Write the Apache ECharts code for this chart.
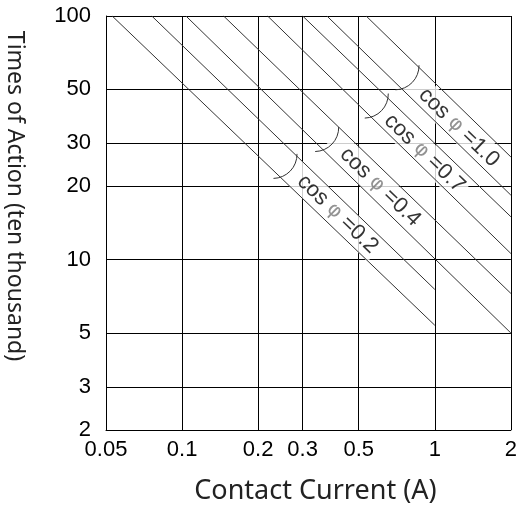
<!DOCTYPE html>
<html>
<head>
<meta charset="utf-8">
<script src="https://cdn.jsdelivr.net/npm/echarts@6/dist/echarts.min.js"></script>
<style>
html, body { margin: 0; padding: 0; background: #fff; }
#chart { width: 520px; height: 510px; }
</style>
</head>
<body>
<div id="chart"></div>
<script>
// grid values on both log axes
var xTicks = [0.05, 0.1, 0.2, 0.3, 0.5, 1, 2];
var yTicks = [2, 3, 5, 10, 20, 30, 50, 100];

// the 8 diagonal life lines, start (top edge) and end point
var lineStartX = [0.0529, 0.0759, 0.1036, 0.146, 0.218, 0.30, 0.3743, 0.535];
var lineStartY = [100, 100, 100, 100, 100, 100, 100, 100];
var lineEndX = [1, 1, 2, 2, 2, 2, 2, 2];
var lineEndY = [5.38, 7.55, 5, 7.27, 10.6, 15.0, 18.4, 26.4];

// power factor bands
var cosNames = ['0.2', '0.4', '0.7', '1.0'];
var bracketX = [0.256, 0.3743, 0.588, 0.778];
var bracketY = [24.2, 31.2, 42.8, 55.9];
var labelX = [0.394, 0.581, 0.870, 1.19];
var labelY = [16.1, 20.8, 28.6, 36.5];

var chart = echarts.init(document.getElementById('chart'));

var series = [];
lineStartX.forEach(function (x, i) {
  series.push({
    type: 'line',
    data: [[x, lineStartY[i]], [lineEndX[i], lineEndY[i]]],
    symbol: 'none',
    silent: true,
    z: 5,
    lineStyle: { color: '#333', width: 1 }
  });
});

// labels, white box hides the grid inside the band
series.push({
  type: 'scatter',
  symbolSize: 0,
  silent: true,
  z: 3,
  data: labelX.map(function (x, i) {
    return { value: [x, labelY[i]], name: cosNames[i] };
  }),
  label: {
    show: true,
    position: 'inside',
    rotate: -44,
    backgroundColor: '#fff',
    padding: [3, 3, 3, 17],
    formatter: function (p) {
      return '{t|cos }{p|φ}{t| =' + p.name + '}';
    },
    rich: {
      t: { fontFamily: 'Liberation Sans', fontSize: 22, color: '#000', lineHeight: 21 },
      p: { fontFamily: 'DejaVu Sans', fontSize: 20, color: '#777', lineHeight: 21 }
    }
  }
});

// little arcs at the start of each band
series.push({
  type: 'custom',
  silent: true,
  z: 4,
  encode: { x: 0, y: 1 },
  data: bracketX.map(function (x, i) { return [x, bracketY[i]]; }),
  renderItem: function (params, api) {
    var m = api.coord([api.value(0), api.value(1)]);
    var a = api.coord([lineStartX[0], lineStartY[0]]);
    var b = api.coord([lineEndX[0], lineEndY[0]]);
    var dx = b[0] - a[0], dy = b[1] - a[1];
    var len = Math.sqrt(dx * dx + dy * dy);
    dx /= len; dy /= len;
    var h = 17, bulge = 7;
    var r = (h * h + bulge * bulge) / (2 * bulge);
    var ang = Math.atan2(dy, dx), half = Math.asin(h / r);
    return {
      type: 'arc',
      shape: {
        cx: m[0] - dx * (r - bulge),
        cy: m[1] - dy * (r - bulge),
        r: r,
        startAngle: ang - half,
        endAngle: ang + half,
        clockwise: true
      },
      style: { stroke: '#333', fill: 'none', lineWidth: 1 }
    };
  }
});

chart.setOption({
  animation: false,
  backgroundColor: '#fff',
  grid: { left: 106, right: 7, top: 16, bottom: 77 },
  xAxis: {
    type: 'log',
    logBase: 10,
    min: 0.05,
    max: 2,
    name: 'Contact Current (A)',
    nameLocation: 'middle',
    nameGap: 48,
    nameTextStyle: { fontFamily: 'Noto Sans', fontSize: 27, color: '#222', padding: [0, 0, 0, 14] },
    axisLine: { show: true, lineStyle: { color: '#000' } },
    axisTick: { show: false, customValues: xTicks },
    axisLabel: {
      customValues: xTicks,
      fontFamily: 'Liberation Sans',
      fontSize: 22,
      color: '#000',
      margin: 9,
      formatter: function (v) { return String(+(+v).toPrecision(3)); }
    },
    splitLine: { show: true, lineStyle: { color: '#000', width: 1 } }
  },
  yAxis: {
    type: 'log',
    logBase: 10,
    min: 2,
    max: 100,
    axisLine: { show: true, lineStyle: { color: '#000' } },
    axisTick: { show: false, customValues: yTicks },
    axisLabel: {
      customValues: yTicks,
      fontFamily: 'Liberation Sans',
      fontSize: 22,
      color: '#000',
      margin: 15,
      formatter: function (v) { return String(+(+v).toPrecision(3)); }
    },
    splitLine: { show: true, lineStyle: { color: '#000', width: 1 } }
  },
  graphic: [{
    type: 'text',
    x: 15,
    y: 196,
    rotation: -Math.PI / 2,
    style: {
      text: 'Times of Action (ten thousand)',
      fontFamily: 'Noto Sans',
      fontSize: 23,
      fill: '#222',
      align: 'center',
      verticalAlign: 'middle'
    }
  }],
  series: series
});
</script>
</body>
</html>
